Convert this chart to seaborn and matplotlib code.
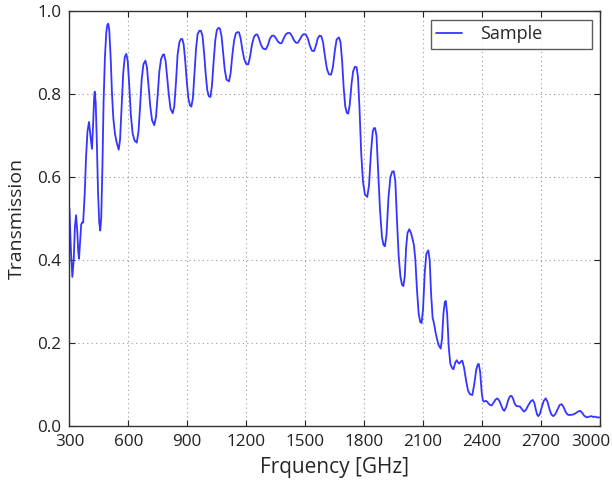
import matplotlib
matplotlib.use("Agg")
import matplotlib.pyplot as plt
import matplotlib.transforms as mtransforms
import seaborn as sns
import pandas as pd

freq = [300, 308, 315, 322, 328, 334, 340, 345, 349, 355, 360, 364, 370, 378, 385, 392, 400, 407, 415, 421,
        426, 429, 434, 440, 446, 452, 457, 462, 468, 474, 481, 488, 493, 498, 503, 510, 517, 524, 532, 540,
        551, 558, 566, 574, 582, 590, 597, 605, 613, 622, 632, 643, 652, 660, 668, 677, 687, 695, 703, 712,
        721, 732, 741, 750, 758, 767, 776, 782, 790, 798, 806, 815, 826, 834, 843, 851, 860, 868, 875, 882,
        890, 898, 906, 914, 921, 929, 937, 945, 953, 962, 970, 978, 986, 994, 1002, 1010, 1018, 1026, 1034, 1043,
        1051, 1060, 1067, 1075, 1083, 1091, 1100, 1113, 1121, 1130, 1139, 1148, 1158, 1164, 1172, 1180, 1190, 1200, 1211, 1220,
        1230, 1240, 1250, 1257, 1265, 1275, 1286, 1300, 1311, 1322, 1332, 1342, 1352, 1362, 1372, 1381, 1392, 1403, 1414, 1424,
        1434, 1444, 1454, 1463, 1474, 1484, 1494, 1504, 1514, 1524, 1535, 1546, 1556, 1565, 1574, 1583, 1592, 1602, 1612, 1622,
        1633, 1642, 1652, 1661, 1673, 1681, 1689, 1697, 1705, 1713, 1720, 1728, 1737, 1745, 1754, 1763, 1770, 1778, 1786, 1795,
        1805, 1817, 1826, 1836, 1845, 1851, 1857, 1864, 1872, 1882, 1892, 1900, 1907, 1915, 1925, 1935, 1944, 1952, 1960, 1968,
        1977, 1986, 1994, 2001, 2008, 2015, 2022, 2031, 2040, 2048, 2055, 2062, 2070, 2079, 2087, 2094, 2101, 2110, 2118, 2128,
        2135, 2142, 2150, 2157, 2165, 2172, 2180, 2191, 2198, 2205, 2212, 2217, 2224, 2232, 2240, 2248, 2256, 2265, 2273, 2280,
        2286, 2294, 2301, 2310, 2320, 2330, 2340, 2352, 2362, 2372, 2380, 2385, 2392, 2400, 2406, 2412, 2420, 2428, 2434, 2442,
        2451, 2460, 2470, 2480, 2490, 2500, 2508, 2515, 2525, 2535, 2544, 2552, 2560, 2568, 2578, 2587, 2595, 2605, 2615, 2625,
        2638, 2650, 2660, 2668, 2676, 2682, 2688, 2696, 2706, 2716, 2726, 2735, 2745, 2755, 2765, 2775, 2787, 2797, 2807, 2817,
        2827, 2835, 2841, 2852, 2866, 2878, 2890, 2901, 2912, 2922, 2935, 2947, 2960, 2968, 2977, 2988, 3000]

transmission = [0.524, 0.42, 0.359, 0.40, 0.48, 0.508, 0.47, 0.42, 0.403, 0.45, 0.485, 0.49, 0.49, 0.56, 0.65, 0.71, 0.733, 0.70, 0.668, 0.73,
                0.79, 0.806, 0.78, 0.68, 0.56, 0.49, 0.471, 0.50, 0.62, 0.78, 0.89, 0.95, 0.967, 0.970, 0.955, 0.89, 0.80, 0.74, 0.705, 0.685,
                0.666, 0.69, 0.77, 0.85, 0.89, 0.897, 0.88, 0.82, 0.75, 0.705, 0.688, 0.683, 0.71, 0.77, 0.835, 0.872, 0.881, 0.865, 0.82, 0.77,
                0.737, 0.725, 0.745, 0.80, 0.855, 0.885, 0.895, 0.896, 0.88, 0.84, 0.80, 0.765, 0.754, 0.77, 0.83, 0.895, 0.925, 0.933, 0.933, 0.92,
                0.88, 0.83, 0.79, 0.773, 0.770, 0.79, 0.85, 0.91, 0.945, 0.953, 0.953, 0.94, 0.90, 0.85, 0.81, 0.795, 0.793, 0.82, 0.875, 0.93,
                0.955, 0.960, 0.958, 0.94, 0.90, 0.86, 0.835, 0.831, 0.85, 0.895, 0.93, 0.947, 0.950, 0.949, 0.935, 0.91, 0.885, 0.873, 0.872, 0.89,
                0.92, 0.938, 0.944, 0.944, 0.935, 0.92, 0.91, 0.908, 0.918, 0.935, 0.941, 0.941, 0.935, 0.927, 0.923, 0.923, 0.935, 0.945, 0.948, 0.947,
                0.940, 0.930, 0.924, 0.924, 0.932, 0.941, 0.945, 0.944, 0.935, 0.918, 0.905, 0.904, 0.918, 0.935, 0.941, 0.940, 0.925, 0.890, 0.860, 0.848,
                0.847, 0.865, 0.905, 0.932, 0.937, 0.925, 0.880, 0.815, 0.77, 0.755, 0.753, 0.775, 0.825, 0.855, 0.866, 0.865, 0.84, 0.76, 0.66, 0.59,
                0.558, 0.552, 0.58, 0.66, 0.71, 0.718, 0.718, 0.70, 0.62, 0.52, 0.455, 0.436, 0.433, 0.46, 0.55, 0.60, 0.613, 0.614, 0.59, 0.50,
                0.41, 0.36, 0.34, 0.337, 0.36, 0.43, 0.465, 0.474, 0.465, 0.45, 0.435, 0.40, 0.33, 0.27, 0.25, 0.248, 0.28, 0.37, 0.415, 0.423,
                0.40, 0.32, 0.26, 0.247, 0.225, 0.21, 0.195, 0.186, 0.21, 0.27, 0.298, 0.301, 0.27, 0.19, 0.15, 0.14, 0.136, 0.152, 0.158, 0.152,
                0.150, 0.155, 0.157, 0.14, 0.11, 0.085, 0.076, 0.074, 0.10, 0.135, 0.148, 0.149, 0.13, 0.08, 0.061, 0.058, 0.06, 0.058, 0.054, 0.050,
                0.049, 0.055, 0.063, 0.066, 0.060, 0.048, 0.039, 0.036, 0.045, 0.062, 0.071, 0.072, 0.065, 0.053, 0.047, 0.047, 0.046, 0.040, 0.034, 0.038,
                0.050, 0.059, 0.062, 0.055, 0.038, 0.027, 0.023, 0.028, 0.045, 0.060, 0.066, 0.058, 0.040, 0.027, 0.023, 0.028, 0.040, 0.050, 0.052, 0.045,
                0.034, 0.028, 0.026, 0.026, 0.027, 0.030, 0.034, 0.036, 0.031, 0.024, 0.020, 0.022, 0.023, 0.021, 0.022, 0.020, 0.020]

x_ticks = [300, 600, 900, 1200, 1500, 1800, 2100, 2400, 2700, 3000]
y_ticks = [0.0, 0.2, 0.4, 0.6, 0.8, 1.0]
series_name = "Sample"

sns.set_style("ticks")
plt.rcParams['font.family'] = ['Open Sans', 'DejaVu Sans']

df = pd.DataFrame({"Frequency": freq, "Transmission": transmission, "Series": series_name})

fig = plt.figure(figsize=(6.12, 4.82), dpi=100)
ax = fig.add_axes([0.1134, 0.1168, 0.8662, 0.8598])

sns.lineplot(data=df, x="Frequency", y="Transmission", hue="Series", palette=["#3535ff"],
             linewidth=1.3, ax=ax, sort=True, estimator=None)

ax.set_xlim(300, 3000)
ax.set_ylim(0, 1.0)
ax.set_xticks(x_ticks)
ax.set_xticklabels([str(t) for t in x_ticks])
ax.set_yticks(y_ticks)
ax.set_yticklabels([f"{t:.1f}" for t in y_ticks])
ax.grid(True, linestyle=(0, (1, 3)), color="#999999", linewidth=0.8)
ax.tick_params(direction="in", top=True, right=True, length=4, labelsize=12.3, colors="#222222", pad=6)
for s in ax.spines.values():
    s.set_color("#333333")
    s.set_linewidth(1.0)

# nudge the last x tick label left so it stays inside the figure
last = ax.get_xticklabels()[-1]
last.set_transform(last.get_transform() + mtransforms.ScaledTranslation(-6 / 72, 0, fig.dpi_scale_trans))

ax.set_xlabel("Frquency [GHz]", fontsize=15, labelpad=5)
ax.set_ylabel("Transmission", fontsize=14, labelpad=8)

leg = ax.legend(loc="upper left", fontsize=13, frameon=True, fancybox=False,
                edgecolor="#333333", handlelength=1.45, handletextpad=1.0, borderpad=0.3,
                bbox_to_anchor=(0.6816, 0.979, 0.3037, 0.0), mode="expand", borderaxespad=0)
leg.get_frame().set_linewidth(1.0)

fig.savefig("out.png", dpi=100)
